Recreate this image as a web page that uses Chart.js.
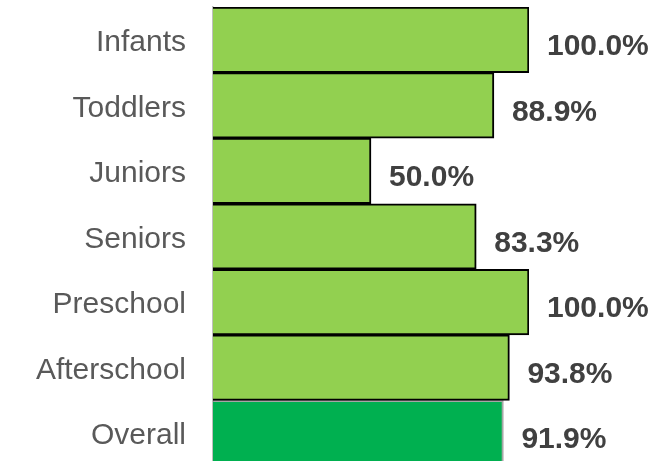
<!DOCTYPE html>
<html>
<head>
<meta charset="utf-8">
<script src="https://cdn.jsdelivr.net/npm/chart.js@4/dist/chart.umd.min.js"></script>
<style>
    html, body { margin: 0; padding: 0; overflow: hidden; background: #fff; }
    #wrap { width: 671px; height: 466px; }
</style>
</head>
<body>
<div id="wrap"><canvas id="barChart"></canvas></div>
<script>
var categories = ["Infants", "Toddlers", "Juniors", "Seniors", "Preschool", "Afterschool", "Overall"];
var percentValues = [100.0, 88.9, 50.0, 83.3, 100.0, 93.8, 91.9];
var barColors = ["#92D050", "#92D050", "#92D050", "#92D050", "#92D050", "#92D050", "#00B050"];
var edgeColors = ["#000", "#000", "#000", "#000", "#000", "#000", "rgba(0,0,0,0.35)"];

// draws the "100.0%" labels to the right of each bar
var valueLabels = {
    id: 'valueLabels',
    afterDatasetsDraw: function (chart) {
        var ctx = chart.ctx;
        var meta = chart.getDatasetMeta(0);
        ctx.save();
        ctx.font = "bold 30px 'Liberation Sans', Arial, sans-serif";
        ctx.fillStyle = "#404040";
        ctx.textBaseline = "middle";
        ctx.textAlign = "left";
        for (var i = 0; i < meta.data.length; i++) {
            var bar = meta.data[i];
            ctx.fillText(percentValues[i].toFixed(1) + "%", bar.x + 18, bar.y + 7);
        }
        ctx.restore();
    }
};

var ctx = document.getElementById("barChart");
var myChart = new Chart(ctx, {
    type: 'bar',
    data: {
        labels: categories,
        datasets: [
            {
                data: percentValues,
                backgroundColor: barColors,
                borderColor: edgeColors,
                borderWidth: 2,
                barPercentage: 1,
                categoryPercentage: 1
            }
        ]
    },
    options: {
        indexAxis: 'y',
        responsive: true,
        maintainAspectRatio: false,
        animation: false,
        layout: {
            padding: { top: 7, right: 142, bottom: 0, left: 0 }
        },
        plugins: {
            legend: { display: false },
            tooltip: { enabled: false }
        },
        scales: {
            x: {
                display: false,
                min: 0,
                max: 100
            },
            y: {
                afterFit: function (scale) {
                    scale.width = 213;
                    scale.paddingTop = 0;
                    scale.paddingBottom = 0;
                },
                grid: { display: false, drawTicks: false },
                border: { display: true, color: "#BFBFBF", width: 1.5 },
                ticks: {
                    padding: 27,
                    labelOffset: 3,
                    color: "#595959",
                    font: { family: "'Liberation Sans', Arial, sans-serif", size: 30 }
                }
            }
        }
    },
    plugins: [valueLabels]
});
</script>
</body>
</html>
